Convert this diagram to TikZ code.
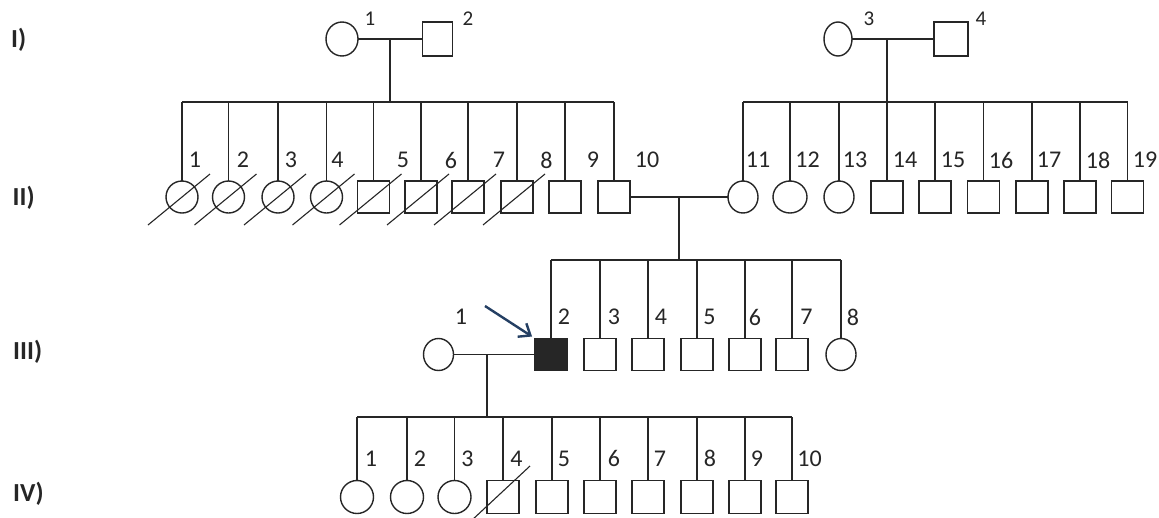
\documentclass[tikz,border=0pt]{standalone}
\usepackage{fontspec}
\setmainfont{Carlito}
\usetikzlibrary{shapes.geometric,arrows.meta,calc}
\definecolor{ink}{HTML}{262626}
\definecolor{arrowblue}{HTML}{243F63}
\begin{document}
\begin{tikzpicture}[x=1pt,y=-1pt,
  pline/.style={draw=ink, line width=1.4pt},
  male/.style={rectangle, draw=ink, line width=1.4pt, fill=white, minimum width=32pt, minimum height=32pt, inner sep=0pt, outer sep=0pt},
  female/.style={ellipse, draw=ink, line width=1.4pt, fill=white, minimum width=32pt, minimum height=32pt, inner sep=0pt, outer sep=0pt},
  affected/.style={fill=ink},
  num/.style={font=\fontsize{24}{24}\selectfont, inner sep=0pt, text=ink},
  numsmall/.style={font=\fontsize{21}{21}\selectfont, inner sep=0pt, text=ink},
  gen/.style={font=\bfseries\fontsize{26}{26}\selectfont, inner sep=0pt, anchor=west, text=ink},
  deadslash/.style={draw=ink, line width=1.1pt}]
\useasboundingbox[fill=white] (0,0) rectangle (1159,517);

% generation labels
\node[gen] (gI)   at (11,40)  {I)};
\node[gen] (gII)  at (12.5,198) {II)};
\node[gen] (gIII) at (13,352) {III)};
\node[gen] (gIV)  at (13,494) {IV)};

% ---------------- Generation I
\node[female, minimum width=32pt, minimum height=34pt] (I1) at (342,39) {};
\node[male, minimum width=30pt, minimum height=34pt] (I2) at (437.5,39) {};
\node[female, minimum width=28pt, minimum height=34pt] (I3) at (838,39) {};
\node[male, minimum width=34pt, minimum height=34pt] (I4) at (951,39) {};
\node[numsmall] (lI1) at (370,19) {1};
\node[numsmall] (lI2) at (468,19) {2};
\node[numsmall] (lI3) at (869,19) {3};
\node[numsmall] (lI4) at (981,19) {4};

\coordinate (m1) at (390,39);
\coordinate (s1) at (390,102);
\coordinate (m2) at (887,39);
\coordinate (s2) at (887,102);

% ---------------- Generation II
\foreach \n/\x in {II1/182,II2/228.5,II3/278,II4/326.5}
  \node[female] (\n) at (\x,197) {};
\foreach \n/\x in {II5/373.5,II6/421,II7/468,II8/517,II9/565,II10/614}
  \node[male] (\n) at (\x,197) {};
\node[female, minimum width=30pt] (II11) at (743,197) {};
\node[female, minimum width=34pt] (II12) at (790,197) {};
\node[female, minimum width=30pt] (II13) at (839,197) {};
\foreach \n/\x in {II14/887,II15/935,II16/983.5,II17/1032,II18/1080,II19/1127.5}
  \node[male] (\n) at (\x,197) {};

\foreach \t/\x in {1/195,2/243,3/291,4/337.5,5/403,6/451,7/499,8/546.5,9/593,10/647,
                  11/758,12/807.5,13/855,14/905,15/953,16/1001,17/1049,18/1098,19/1145}
  \node[num] (lII\t) at (\x,160) {\t};

\coordinate (m3) at (679,197);
\coordinate (s3) at (679,260);

% ---------------- Generation III
\node[female, minimum width=30pt] (III1) at (438.5,354.5) {};
\node[male, affected] (III2) at (551,354.5) {};
\foreach \n/\x in {III3/600,III4/648,III5/697,III6/745,III7/792}
  \node[male] (\n) at (\x,354.5) {};
\node[female, minimum width=30pt] (III8) at (841,354.5) {};

\foreach \t/\x in {1/461,2/564,3/614,4/661,5/709.5,6/755,7/806.5,8/853}
  \node[num] (lIII\t) at (\x,317) {\t};

\coordinate (m4) at (487,354.5);
\coordinate (s4) at (487,417);

% ---------------- Generation IV
\foreach \n/\x in {IV1/357,IV2/407,IV3/454.5}
  \node[female, minimum width=33pt, minimum height=33pt] (\n) at (\x,497) {};
\foreach \n/\x in {IV4/503,IV5/552,IV6/600,IV7/648,IV8/697,IV9/745,IV10/792}
  \node[male, minimum height=33pt] (\n) at (\x,497) {};

\foreach \t/\x in {1/371,2/420,3/467.5,4/516.5,5/564,6/614,7/660,8/710,9/757,10/809.5}
  \node[num] (lIV\t) at (\x,458.5) {\t};

% ---------------- connectors
% marriages
\draw[pline] (I1.east) -- (I2.west);
\draw[pline] (I3.east) -- (I4.west);
\draw[pline] (II10.east) -- (II11.west);
\draw[pline] (III1.east) -- (III2.west);
% descent lines
\draw[pline] (m1) -- (s1);
\draw[pline] (m2) -- (s2);
\draw[pline] (m3) -- (s3);
\draw[pline] (m4) -- (s4);
% sibship lines
\draw[pline] (II1.north |- s1) -- (II10.north |- s1);
\draw[pline] (II11.north |- s2) -- (II19.north |- s2);
\draw[pline] (III2.north |- s3) -- (III8.north |- s3);
\draw[pline] (IV1.north |- s4) -- (IV10.north |- s4);
% child lines
\foreach \n in {II1,II2,II3,II4,II5,II6,II7,II8,II9,II10}
  \draw[pline] (\n.north |- s1) -- (\n.north);
\foreach \n in {II11,II12,II13,II14,II15,II16,II17,II18,II19}
  \draw[pline] (\n.north |- s2) -- (\n.north);
\foreach \n in {III2,III3,III4,III5,III6,III7,III8}
  \draw[pline] (\n.north |- s3) -- (\n.north);
\foreach \n in {IV1,IV2,IV3,IV4,IV5,IV6,IV7,IV8,IV9,IV10}
  \draw[pline] (\n.north |- s4) -- (\n.north);

% deceased slashes
\foreach \n in {II1,II2,II3,II4,II5,II6,II7,II8}
  \draw[deadslash] ($(\n.center)+(-34,28)$) -- ($(\n.center)+(28,-23)$);
\draw[deadslash] ($(IV4.center)+(-32,24)$) -- ($(IV4.center)+(27,-31)$);

% proband arrow
\coordinate (arrtail) at (485,306);
\draw[draw=arrowblue, line width=2.4pt, -{Straight Barb[length=10pt,width=16pt]}] (arrtail) -- ($(III2.north west)+(-3,-2)$);
\end{tikzpicture}
\end{document}
